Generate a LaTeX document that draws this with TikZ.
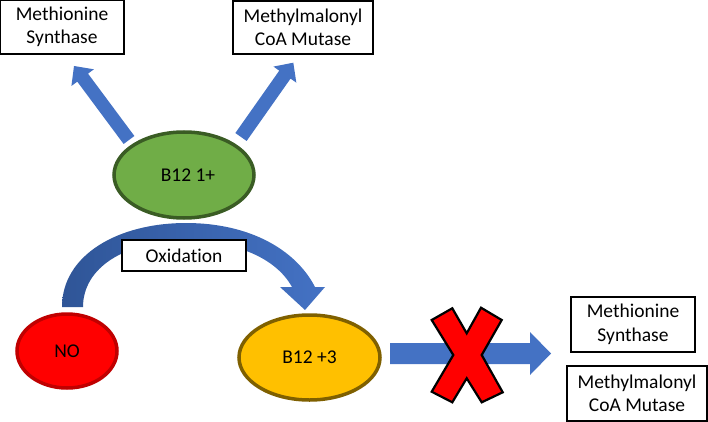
\documentclass[tikz,border=0pt]{standalone}
\usepackage{fontspec}
\setmainfont{Carlito}[Ligatures=NoCommon]
\usetikzlibrary{calc,shapes.geometric}
\definecolor{arrowblue}{HTML}{4472C4}
\definecolor{curvedark}{HTML}{2F5597}
\definecolor{greenfill}{HTML}{70AD47}
\definecolor{greenline}{HTML}{3A5C24}
\definecolor{redline}{HTML}{C00000}
\definecolor{goldfill}{HTML}{FFC000}
\definecolor{goldline}{HTML}{7F6000}
\newcommand\blockarrow[5]{%
  \coordinate (hb) at ($(#2)!#5!(#1)$);
  \fill[arrowblue] ($(#1)!#3!90:(#2)$) -- ($(hb)!#3!90:(#2)$) -- ($(hb)!#4!90:(#2)$) -- (#2)
    -- ($(hb)!#4!-90:(#2)$) -- ($(hb)!#3!-90:(#2)$) -- ($(#1)!#3!-90:(#2)$) -- cycle;}
\begin{document}
\begin{tikzpicture}[x=1pt,y=-1pt,
  txt/.style={font=\fontsize{19.5}{23.5}\selectfont},
  box/.style={txt, draw=black, line width=1.8pt, fill=white, align=center, inner sep=0pt},
  oval/.style={txt, ellipse, line width=3.5pt, inner sep=0pt}]
\useasboundingbox (0,0) rectangle (708,422);
% boxes
\node[box, minimum width=124pt, minimum height=54pt] (ms1) at (62,27) {Methionine\\Synthase};
\node[box, minimum width=140pt, minimum height=53pt] (mm1) at (303,27.5) {Methylmalonyl\\CoA Mutase};
\node[box, minimum width=124pt, minimum height=55pt] (ms2) at (633,324.5) {Methionine\\Synthase};
\node[box, minimum width=140pt, minimum height=55pt] (mm2) at (637,393.5) {Methylmalonyl\\CoA Mutase};
% upper block arrows
\coordinate (lTail) at (129,140);
\coordinate (lTip) at (74,66);
\coordinate (rTail) at (241,137);
\coordinate (rTip) at (293.3,62.7);
\blockarrow{lTail}{lTip}{6.7pt}{14pt}{14.5pt}
\blockarrow{rTail}{rTip}{6.9pt}{14pt}{14.6pt}
% ellipses
\node[oval, draw=greenline, fill=greenfill, minimum width=140pt, minimum height=86pt] (b1) at (184,175) {\hspace{8pt}B12 1+};
\node[oval, draw=redline, fill=red, minimum width=100pt, minimum height=74pt] (no) at (67,351) {NO};
\node[oval, draw=goldline, fill=goldfill, minimum width=141pt, minimum height=85pt] (b3) at (309.5,357.5) {B12 +3};
% curved oxidation arrow
\shade[left color=curvedark, right color=arrowblue]
  (62,307) .. controls (62,255) and (118,223) .. (186,223)
  .. controls (250,223) and (296,250) .. (315,287)
  -- (325,287) -- (305,310) -- (280,287) -- (292,287)
  .. controls (276,258) and (236,241) .. (186,241)
  .. controls (124,241) and (83,268) .. (83,307) -- cycle;
\node[box, minimum width=124pt, minimum height=31pt] (ox) at (184,255.5) {Oxidation};
% horizontal blocked arrow
\coordinate (hTail) at (390,353.5);
\coordinate (hTip) at (551,353.5);
\blockarrow{hTail}{hTip}{10.5pt}{21.5pt}{21pt}
% red X
\filldraw[fill=red, draw=black, line width=2.2pt, line join=miter]
  (431.7,320) -- (452.3,308.3) -- (466.7,333.3) -- (481,307.7) -- (501.7,320)
  -- (481.7,355) -- (502.7,392.3) -- (481.7,402.3) -- (466.7,378.3)
  -- (452.3,402.3) -- (431.7,391.7) -- (453.3,355) -- cycle;
\end{tikzpicture}
\end{document}
